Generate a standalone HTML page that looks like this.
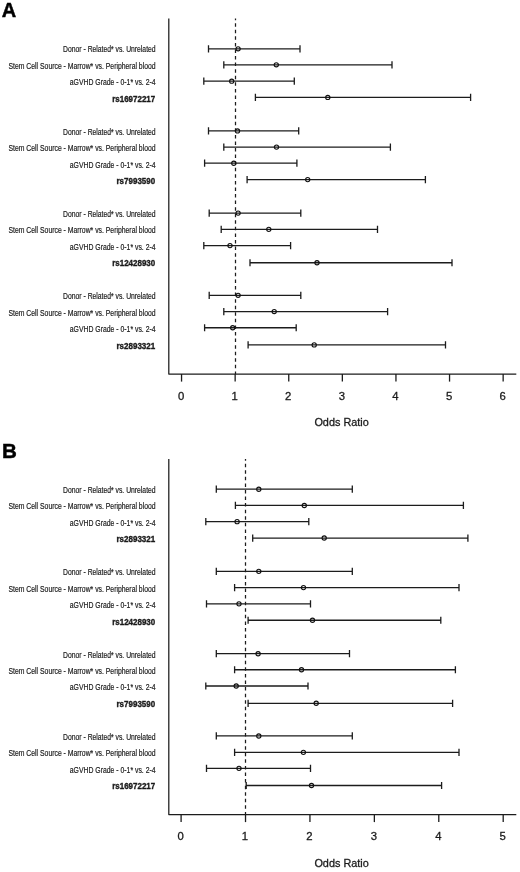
<!DOCTYPE html>
<html><head><meta charset="utf-8"><title>Forest plot</title><style>
html,body{margin:0;padding:0;background:#fff;}
svg{display:block;}
text{font-family:"Liberation Sans",Arial,sans-serif;fill:#1a1a1a;}
.lt{font-size:20px;font-weight:bold;fill:#000;stroke:#000;stroke-width:0.45;}
.lb{font-size:8.2px;text-anchor:end;stroke:#1a1a1a;stroke-width:0.18;}
.sn{font-size:8.8px;font-weight:bold;text-anchor:end;stroke:#1a1a1a;stroke-width:0.35;}
.tl{font-size:11.3px;text-anchor:middle;stroke:#1a1a1a;stroke-width:0.3;}
.xl{font-size:11.5px;text-anchor:middle;stroke:#1a1a1a;stroke-width:0.3;}
.ax{fill:none;stroke:#1c1c1c;stroke-width:1.25;stroke-linejoin:round;}
.tk{stroke:#1c1c1c;stroke-width:1.3;}
.dash{fill:none;stroke:#1c1c1c;stroke-width:1.25;}
.ci{fill:none;stroke:#1c1c1c;stroke-width:1.3;}
.pt{fill:none;stroke:#111;stroke-width:1.15;}
</style></head>
<body><svg width="520" height="872" viewBox="0 0 520 872">
<text x="1.7" y="17.00" class="lt">A</text>
<path d="M168.8 18.50V374.00H516.3" class="ax"/>
<path d="M235.5 18.50V20.13M235.5 23.20V26.70M235.5 29.77V33.27M235.5 36.34V39.84M235.5 42.91V46.41M235.5 49.48V52.98M235.5 56.05V59.55M235.5 62.62V66.12M235.5 69.19V72.69M235.5 75.76V79.26M235.5 82.33V85.83M235.5 88.90V92.40M235.5 95.47V98.97M235.5 102.04V105.54M235.5 108.61V112.11M235.5 115.18V118.68M235.5 121.75V125.25M235.5 128.32V131.82M235.5 134.89V138.39M235.5 141.46V144.96M235.5 148.03V151.53M235.5 154.60V158.10M235.5 161.17V164.67M235.5 167.74V171.24M235.5 174.31V177.81M235.5 180.88V184.38M235.5 187.45V190.95M235.5 194.02V197.52M235.5 200.59V204.09M235.5 207.16V210.66M235.5 213.73V217.23M235.5 220.30V223.80M235.5 226.87V230.37M235.5 233.44V236.94M235.5 240.01V243.51M235.5 246.58V250.08M235.5 253.15V256.65M235.5 259.72V263.22M235.5 266.29V269.79M235.5 272.86V276.36M235.5 279.43V282.93M235.5 286.00V289.50M235.5 292.57V296.07M235.5 299.14V302.64M235.5 305.71V309.21M235.5 312.28V315.78M235.5 318.85V322.35M235.5 325.42V328.92M235.5 331.99V335.49M235.5 338.56V342.06M235.5 345.13V348.63M235.5 351.70V355.20M235.5 358.27V361.77M235.5 364.84V368.34M235.5 371.41V374.00" class="dash"/>
<line x1="181.55" y1="374.00" x2="181.55" y2="381.60" class="tk"/>
<text x="181.05" y="399.60" class="tl">0</text>
<line x1="235.15" y1="374.00" x2="235.15" y2="381.60" class="tk"/>
<text x="234.65" y="399.60" class="tl">1</text>
<line x1="288.75" y1="374.00" x2="288.75" y2="381.60" class="tk"/>
<text x="288.25" y="399.60" class="tl">2</text>
<line x1="342.35" y1="374.00" x2="342.35" y2="381.60" class="tk"/>
<text x="341.85" y="399.60" class="tl">3</text>
<line x1="395.95" y1="374.00" x2="395.95" y2="381.60" class="tk"/>
<text x="395.45" y="399.60" class="tl">4</text>
<line x1="449.55" y1="374.00" x2="449.55" y2="381.60" class="tk"/>
<text x="449.05" y="399.60" class="tl">5</text>
<line x1="503.15" y1="374.00" x2="503.15" y2="381.60" class="tk"/>
<text x="502.65" y="399.60" class="tl">6</text>
<text x="341.6" y="426.10" class="xl" textLength="54.4" lengthAdjust="spacingAndGlyphs">Odds Ratio</text>
<path d="M208.5 45.20v7.2M208.5 48.80H300.0M300.0 45.20v7.2" class="ci"/>
<circle cx="238.1" cy="48.80" r="2.1" class="pt"/>
<text x="155.6" y="52.20" class="lb" textLength="92.5" lengthAdjust="spacingAndGlyphs">Donor - Related* vs. Unrelated</text>
<path d="M223.8 61.22v7.2M223.8 64.82H392.0M392.0 61.22v7.2" class="ci"/>
<circle cx="276.3" cy="64.82" r="2.1" class="pt"/>
<text x="155.6" y="68.68" class="lb" textLength="147.1" lengthAdjust="spacingAndGlyphs">Stem Cell Source - Marrow* vs. Peripheral blood</text>
<path d="M203.8 77.55v7.2M203.8 81.15H294.3M294.3 77.55v7.2" class="ci"/>
<circle cx="231.7" cy="81.15" r="2.1" class="pt"/>
<text x="155.6" y="85.16" class="lb" textLength="85.8" lengthAdjust="spacingAndGlyphs">aGVHD Grade - 0-1* vs. 2-4</text>
<path d="M255.4 93.80v7.2M255.4 97.40H470.6M470.6 93.80v7.2" class="ci"/>
<circle cx="327.8" cy="97.40" r="2.1" class="pt"/>
<text x="155.2" y="101.64" class="sn" textLength="43.0" lengthAdjust="spacingAndGlyphs">rs16972217</text>
<path d="M208.5 127.35v7.2M208.5 130.95H298.7M298.7 127.35v7.2" class="ci"/>
<circle cx="237.5" cy="130.95" r="2.1" class="pt"/>
<text x="155.6" y="134.60" class="lb" textLength="92.5" lengthAdjust="spacingAndGlyphs">Donor - Related* vs. Unrelated</text>
<path d="M223.8 143.52v7.2M223.8 147.12H390.4M390.4 143.52v7.2" class="ci"/>
<circle cx="276.5" cy="147.12" r="2.1" class="pt"/>
<text x="155.6" y="151.08" class="lb" textLength="147.1" lengthAdjust="spacingAndGlyphs">Stem Cell Source - Marrow* vs. Peripheral blood</text>
<path d="M204.6 159.62v7.2M204.6 163.22H296.9M296.9 159.62v7.2" class="ci"/>
<circle cx="233.8" cy="163.22" r="2.1" class="pt"/>
<text x="155.6" y="167.56" class="lb" textLength="85.8" lengthAdjust="spacingAndGlyphs">aGVHD Grade - 0-1* vs. 2-4</text>
<path d="M247.1 176.02v7.2M247.1 179.62H425.4M425.4 176.02v7.2" class="ci"/>
<circle cx="307.7" cy="179.62" r="2.1" class="pt"/>
<text x="155.2" y="184.04" class="sn" textLength="38.7" lengthAdjust="spacingAndGlyphs">rs7993590</text>
<path d="M209.2 209.50v7.2M209.2 213.10H300.8M300.8 209.50v7.2" class="ci"/>
<circle cx="238.1" cy="213.10" r="2.1" class="pt"/>
<text x="155.6" y="217.00" class="lb" textLength="92.5" lengthAdjust="spacingAndGlyphs">Donor - Related* vs. Unrelated</text>
<path d="M221.2 225.75v7.2M221.2 229.35H377.5M377.5 225.75v7.2" class="ci"/>
<circle cx="268.8" cy="229.35" r="2.1" class="pt"/>
<text x="155.6" y="233.48" class="lb" textLength="147.1" lengthAdjust="spacingAndGlyphs">Stem Cell Source - Marrow* vs. Peripheral blood</text>
<path d="M203.8 242.00v7.2M203.8 245.60H290.6M290.6 242.00v7.2" class="ci"/>
<circle cx="230.0" cy="245.60" r="2.1" class="pt"/>
<text x="155.6" y="249.96" class="lb" textLength="85.8" lengthAdjust="spacingAndGlyphs">aGVHD Grade - 0-1* vs. 2-4</text>
<path d="M250.0 259.14v7.2M250.0 262.74H452.0M452.0 259.14v7.2" class="ci"/>
<circle cx="317.0" cy="262.74" r="2.1" class="pt"/>
<text x="155.2" y="266.44" class="sn" textLength="43.0" lengthAdjust="spacingAndGlyphs">rs12428930</text>
<path d="M209.2 291.72v7.2M209.2 295.32H300.8M300.8 291.72v7.2" class="ci"/>
<circle cx="238.1" cy="295.32" r="2.1" class="pt"/>
<text x="155.6" y="299.40" class="lb" textLength="92.5" lengthAdjust="spacingAndGlyphs">Donor - Related* vs. Unrelated</text>
<path d="M223.8 307.97v7.2M223.8 311.57H387.6M387.6 307.97v7.2" class="ci"/>
<circle cx="274.2" cy="311.57" r="2.1" class="pt"/>
<text x="155.6" y="315.88" class="lb" textLength="147.1" lengthAdjust="spacingAndGlyphs">Stem Cell Source - Marrow* vs. Peripheral blood</text>
<path d="M204.6 324.14v7.2M204.6 327.74H296.2M296.2 324.14v7.2" class="ci"/>
<circle cx="232.7" cy="327.74" r="2.1" class="pt"/>
<text x="155.6" y="332.36" class="lb" textLength="85.8" lengthAdjust="spacingAndGlyphs">aGVHD Grade - 0-1* vs. 2-4</text>
<path d="M248.1 341.29v7.2M248.1 344.89H445.5M445.5 341.29v7.2" class="ci"/>
<circle cx="314.2" cy="344.89" r="2.1" class="pt"/>
<text x="155.2" y="348.84" class="sn" textLength="38.7" lengthAdjust="spacingAndGlyphs">rs2893321</text>
<text x="1.9" y="457.65" class="lt" style="font-size:20.6px">B</text>
<path d="M168.8 459.00V814.50H516.3" class="ax"/>
<path d="M245.5 459.00V460.63M245.5 463.70V467.20M245.5 470.27V473.77M245.5 476.84V480.34M245.5 483.41V486.91M245.5 489.98V493.48M245.5 496.55V500.05M245.5 503.12V506.62M245.5 509.69V513.19M245.5 516.26V519.76M245.5 522.83V526.33M245.5 529.40V532.90M245.5 535.97V539.47M245.5 542.54V546.04M245.5 549.11V552.61M245.5 555.68V559.18M245.5 562.25V565.75M245.5 568.82V572.32M245.5 575.39V578.89M245.5 581.96V585.46M245.5 588.53V592.03M245.5 595.10V598.60M245.5 601.67V605.17M245.5 608.24V611.74M245.5 614.81V618.31M245.5 621.38V624.88M245.5 627.95V631.45M245.5 634.52V638.02M245.5 641.09V644.59M245.5 647.66V651.16M245.5 654.23V657.73M245.5 660.80V664.30M245.5 667.37V670.87M245.5 673.94V677.44M245.5 680.51V684.01M245.5 687.08V690.58M245.5 693.65V697.15M245.5 700.22V703.72M245.5 706.79V710.29M245.5 713.36V716.86M245.5 719.93V723.43M245.5 726.50V730.00M245.5 733.07V736.57M245.5 739.64V743.14M245.5 746.21V749.71M245.5 752.78V756.28M245.5 759.35V762.85M245.5 765.92V769.42M245.5 772.49V775.99M245.5 779.06V782.56M245.5 785.63V789.13M245.5 792.20V795.70M245.5 798.77V802.27M245.5 805.34V808.84M245.5 811.91V814.50" class="dash"/>
<line x1="181.10" y1="814.50" x2="181.10" y2="822.10" class="tk"/>
<text x="180.60" y="840.10" class="tl">0</text>
<line x1="245.52" y1="814.50" x2="245.52" y2="822.10" class="tk"/>
<text x="245.02" y="840.10" class="tl">1</text>
<line x1="309.94" y1="814.50" x2="309.94" y2="822.10" class="tk"/>
<text x="309.44" y="840.10" class="tl">2</text>
<line x1="374.36" y1="814.50" x2="374.36" y2="822.10" class="tk"/>
<text x="373.86" y="840.10" class="tl">3</text>
<line x1="438.78" y1="814.50" x2="438.78" y2="822.10" class="tk"/>
<text x="438.28" y="840.10" class="tl">4</text>
<line x1="503.20" y1="814.50" x2="503.20" y2="822.10" class="tk"/>
<text x="502.70" y="840.10" class="tl">5</text>
<text x="341.6" y="866.60" class="xl" textLength="54.4" lengthAdjust="spacingAndGlyphs">Odds Ratio</text>
<path d="M216.3 485.60v7.2M216.3 489.20H352.3M352.3 485.60v7.2" class="ci"/>
<circle cx="258.8" cy="489.20" r="2.1" class="pt"/>
<text x="155.6" y="492.70" class="lb" textLength="92.5" lengthAdjust="spacingAndGlyphs">Donor - Related* vs. Unrelated</text>
<path d="M235.4 501.85v7.2M235.4 505.45H463.4M463.4 501.85v7.2" class="ci"/>
<circle cx="304.3" cy="505.45" r="2.1" class="pt"/>
<text x="155.6" y="509.18" class="lb" textLength="147.1" lengthAdjust="spacingAndGlyphs">Stem Cell Source - Marrow* vs. Peripheral blood</text>
<path d="M205.8 518.03v7.2M205.8 521.63H308.8M308.8 518.03v7.2" class="ci"/>
<circle cx="237.1" cy="521.63" r="2.1" class="pt"/>
<text x="155.6" y="525.66" class="lb" textLength="85.8" lengthAdjust="spacingAndGlyphs">aGVHD Grade - 0-1* vs. 2-4</text>
<path d="M252.7 534.43v7.2M252.7 538.03H467.9M467.9 534.43v7.2" class="ci"/>
<circle cx="324.2" cy="538.03" r="2.1" class="pt"/>
<text x="155.2" y="542.14" class="sn" textLength="38.7" lengthAdjust="spacingAndGlyphs">rs2893321</text>
<path d="M216.3 567.75v7.2M216.3 571.35H352.3M352.3 567.75v7.2" class="ci"/>
<circle cx="258.8" cy="571.35" r="2.1" class="pt"/>
<text x="155.6" y="575.10" class="lb" textLength="92.5" lengthAdjust="spacingAndGlyphs">Donor - Related* vs. Unrelated</text>
<path d="M234.6 584.00v7.2M234.6 587.60H459.0M459.0 584.00v7.2" class="ci"/>
<circle cx="303.5" cy="587.60" r="2.1" class="pt"/>
<text x="155.6" y="591.58" class="lb" textLength="147.1" lengthAdjust="spacingAndGlyphs">Stem Cell Source - Marrow* vs. Peripheral blood</text>
<path d="M206.5 600.25v7.2M206.5 603.85H310.5M310.5 600.25v7.2" class="ci"/>
<circle cx="239.0" cy="603.85" r="2.1" class="pt"/>
<text x="155.6" y="608.06" class="lb" textLength="85.8" lengthAdjust="spacingAndGlyphs">aGVHD Grade - 0-1* vs. 2-4</text>
<path d="M248.1 616.65v7.2M248.1 620.25H440.8M440.8 616.65v7.2" class="ci"/>
<circle cx="312.5" cy="620.25" r="2.1" class="pt"/>
<text x="155.2" y="624.54" class="sn" textLength="43.0" lengthAdjust="spacingAndGlyphs">rs12428930</text>
<path d="M216.3 650.12v7.2M216.3 653.72H349.5M349.5 650.12v7.2" class="ci"/>
<circle cx="258.1" cy="653.72" r="2.1" class="pt"/>
<text x="155.6" y="657.50" class="lb" textLength="92.5" lengthAdjust="spacingAndGlyphs">Donor - Related* vs. Unrelated</text>
<path d="M234.6 666.15v7.2M234.6 669.75H455.4M455.4 666.15v7.2" class="ci"/>
<circle cx="301.5" cy="669.75" r="2.1" class="pt"/>
<text x="155.6" y="673.98" class="lb" textLength="147.1" lengthAdjust="spacingAndGlyphs">Stem Cell Source - Marrow* vs. Peripheral blood</text>
<path d="M205.8 682.40v7.2M205.8 686.00H308.0M308.0 682.40v7.2" class="ci"/>
<circle cx="236.2" cy="686.00" r="2.1" class="pt"/>
<text x="155.6" y="690.46" class="lb" textLength="85.8" lengthAdjust="spacingAndGlyphs">aGVHD Grade - 0-1* vs. 2-4</text>
<path d="M248.1 699.69v7.2M248.1 703.29H452.6M452.6 699.69v7.2" class="ci"/>
<circle cx="316.2" cy="703.29" r="2.1" class="pt"/>
<text x="155.2" y="706.94" class="sn" textLength="38.7" lengthAdjust="spacingAndGlyphs">rs7993590</text>
<path d="M216.3 732.35v7.2M216.3 735.95H352.3M352.3 732.35v7.2" class="ci"/>
<circle cx="258.8" cy="735.95" r="2.1" class="pt"/>
<text x="155.6" y="739.90" class="lb" textLength="92.5" lengthAdjust="spacingAndGlyphs">Donor - Related* vs. Unrelated</text>
<path d="M234.6 748.75v7.2M234.6 752.35H459.0M459.0 748.75v7.2" class="ci"/>
<circle cx="303.4" cy="752.35" r="2.1" class="pt"/>
<text x="155.6" y="756.38" class="lb" textLength="147.1" lengthAdjust="spacingAndGlyphs">Stem Cell Source - Marrow* vs. Peripheral blood</text>
<path d="M206.5 764.77v7.2M206.5 768.37H310.5M310.5 764.77v7.2" class="ci"/>
<circle cx="239.0" cy="768.37" r="2.1" class="pt"/>
<text x="155.6" y="772.86" class="lb" textLength="85.8" lengthAdjust="spacingAndGlyphs">aGVHD Grade - 0-1* vs. 2-4</text>
<path d="M246.2 781.92v7.2M246.2 785.52H441.6M441.6 781.92v7.2" class="ci"/>
<circle cx="311.5" cy="785.52" r="2.1" class="pt"/>
<text x="155.2" y="789.34" class="sn" textLength="43.0" lengthAdjust="spacingAndGlyphs">rs16972217</text>
</svg></body></html>
